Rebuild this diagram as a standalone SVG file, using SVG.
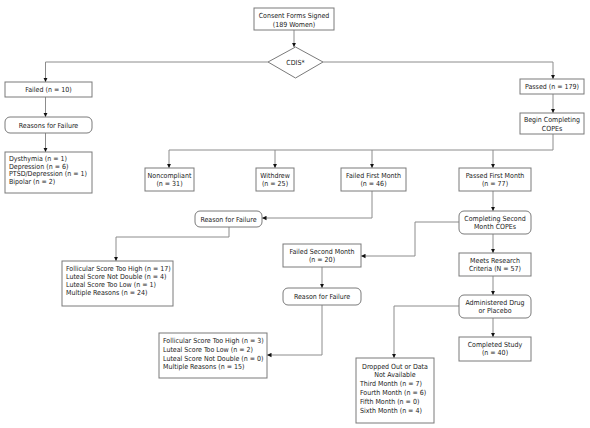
<svg xmlns="http://www.w3.org/2000/svg" width="590" height="428" viewBox="0 0 590 428">
<defs>
<style>
.b{fill:#fff;stroke:#7a7a7a;stroke-width:1}
.c{fill:none;stroke:#8c8c8c;stroke-width:1}
text{font-family:"DejaVu Sans Condensed","Liberation Sans Narrow","Liberation Sans",sans-serif;font-size:7px;fill:#1a1a1a}
.m{text-anchor:middle}
</style>
<marker id="a" markerUnits="userSpaceOnUse" markerWidth="5" markerHeight="5" refX="4.5" refY="2.5" orient="auto">
<path d="M0,0.3 L4.5,2.5 L0,4.7 z" fill="#111"/>
</marker>
</defs>
<rect width="590" height="428" fill="#fff"/>
<g id="connectors">
<path class="c" marker-end="url(#a)" d="M294,30 V47"/>
<path class="c" marker-end="url(#a)" d="M268,62 H45.5 V82"/>
<path class="c" marker-end="url(#a)" d="M45.5,97 V117"/>
<path class="c" marker-end="url(#a)" d="M45.5,133 V152"/>
<path class="c" marker-end="url(#a)" d="M323,62 H553 V79"/>
<path class="c" marker-end="url(#a)" d="M553,94 V113"/>
<path class="c" marker-end="url(#a)" d="M553,134 V150 H169 V168"/>
<path class="c" marker-end="url(#a)" d="M275,150 V168"/>
<path class="c" marker-end="url(#a)" d="M372,150 V168"/>
<path class="c" marker-end="url(#a)" d="M493,150 V168"/>
<path class="c" marker-end="url(#a)" d="M372,191 V218 H262"/>
<path class="c" marker-end="url(#a)" d="M229,227 V237 H116 V261"/>
<path class="c" marker-end="url(#a)" d="M493,191 V211"/>
<path class="c" marker-end="url(#a)" d="M459,222 H415 V256 H361"/>
<path class="c" marker-end="url(#a)" d="M322,267 V288"/>
<path class="c" marker-end="url(#a)" d="M322,305 V355 H267"/>
<path class="c" marker-end="url(#a)" d="M493,234 V253"/>
<path class="c" marker-end="url(#a)" d="M493,276 V295"/>
<path class="c" marker-end="url(#a)" d="M493,318 V337"/>
<path class="c" marker-end="url(#a)" d="M459,306 H394 V358"/>
</g>
<g id="consent"><rect class="b" x="254" y="8" width="80" height="22"/><text class="m" x="294" y="17.5">Consent Forms Signed</text><text class="m" x="294" y="26.5">(189 Women)</text></g>
<g id="cdis"><polygon class="b" points="295.5,47 323,62 295.5,78 268,62"/><text class="m" x="295.5" y="64.7">CDIS*</text></g>
<g id="failed"><rect class="b" x="5" y="82" width="87" height="15"/><text class="m" x="48.5" y="92.3">Failed (n = 10)</text></g>
<g id="reasons1"><rect class="b" x="5" y="117" width="87" height="16" rx="5"/><text class="m" x="48.5" y="127.8">Reasons for Failure</text></g>
<g id="dysthymia"><rect class="b" x="5" y="152" width="87" height="41"/><text x="9" y="161">Dysthymia (n = 1)</text><text x="9" y="168.7">Depression (n = 6)</text><text x="9" y="176.4">PTSD/Depression (n = 1)</text><text x="9" y="184.1">Bipolar (n = 2)</text></g>
<g id="passed"><rect class="b" x="520" y="79" width="64" height="15"/><text class="m" x="552" y="89.3">Passed (n = 179)</text></g>
<g id="begin"><rect class="b" x="520" y="113" width="64" height="21"/><text class="m" x="552" y="122">Begin Completing</text><text class="m" x="552" y="130.5">COPEs</text></g>
<g id="noncompliant"><rect class="b" x="145" y="168" width="49" height="23"/><text class="m" x="169.5" y="177.5">Noncompliant</text><text class="m" x="169.5" y="186">(n = 31)</text></g>
<g id="withdrew"><rect class="b" x="256" y="168" width="38" height="23"/><text class="m" x="275" y="177.5">Withdrew</text><text class="m" x="275" y="186">(n = 25)</text></g>
<g id="failed1"><rect class="b" x="341" y="168" width="65" height="23"/><text class="m" x="373.5" y="177.5">Failed First Month</text><text class="m" x="373.5" y="186">(n = 46)</text></g>
<g id="passed1"><rect class="b" x="459" y="168" width="72" height="23"/><text class="m" x="495" y="177.5">Passed First Month</text><text class="m" x="495" y="186">(n = 77)</text></g>
<g id="reason1"><rect class="b" x="195" y="211" width="67" height="16" rx="5"/><text class="m" x="228.5" y="221.7">Reason for Failure</text></g>
<g id="follicular1"><rect class="b" x="62" y="261" width="111" height="45"/><text x="66" y="271">Follicular Score Too High (n = 17)</text><text x="66" y="279">Luteal Score Not Double (n = 4)</text><text x="66" y="287">Luteal Score Too Low (n = 1)</text><text x="66" y="295">Multiple Reasons (n = 24)</text></g>
<g id="completing2"><rect class="b" x="459" y="211" width="72" height="23" rx="5"/><text class="m" x="495" y="220.5">Completing Second</text><text class="m" x="495" y="229">Month COPEs</text></g>
<g id="failed2"><rect class="b" x="283" y="244" width="78" height="23"/><text class="m" x="322" y="253.5">Failed Second Month</text><text class="m" x="322" y="262">(n = 20)</text></g>
<g id="reason2"><rect class="b" x="283" y="288" width="78" height="17" rx="5"/><text class="m" x="322" y="299">Reason for Failure</text></g>
<g id="follicular2"><rect class="b" x="159" y="333" width="108" height="45"/><text x="163" y="343.4">Follicular Score Too High (n = 3)</text><text x="163" y="352">Luteal Score Too Low (n = 2)</text><text x="163" y="361">Luteal Score Not Double (n = 0)</text><text x="163" y="369.4">Multiple Reasons (n = 15)</text></g>
<g id="meets"><rect class="b" x="459" y="253" width="72" height="23"/><text class="m" x="495" y="262.5">Meets Research</text><text class="m" x="495" y="271">Criteria (N = 57)</text></g>
<g id="administered"><rect class="b" x="459" y="295" width="72" height="23" rx="5"/><text class="m" x="495" y="304.5">Administered Drug</text><text class="m" x="495" y="313">or Placebo</text></g>
<g id="completed"><rect class="b" x="459" y="337" width="72" height="24"/><text class="m" x="495" y="346.5">Completed Study</text><text class="m" x="495" y="355">(n = 40)</text></g>
<g id="dropped"><rect class="b" x="356" y="358" width="78" height="65"/><text class="m" x="395" y="369.4">Dropped Out or Data</text><text class="m" x="395" y="377">Not Available</text><text x="360" y="386">Third Month (n = 7)</text><text x="360" y="395">Fourth Month (n = 6)</text><text x="360" y="404.4">Fifth Month (n = 0)</text><text x="360" y="413.4">Sixth Month (n = 4)</text></g>
</svg>
